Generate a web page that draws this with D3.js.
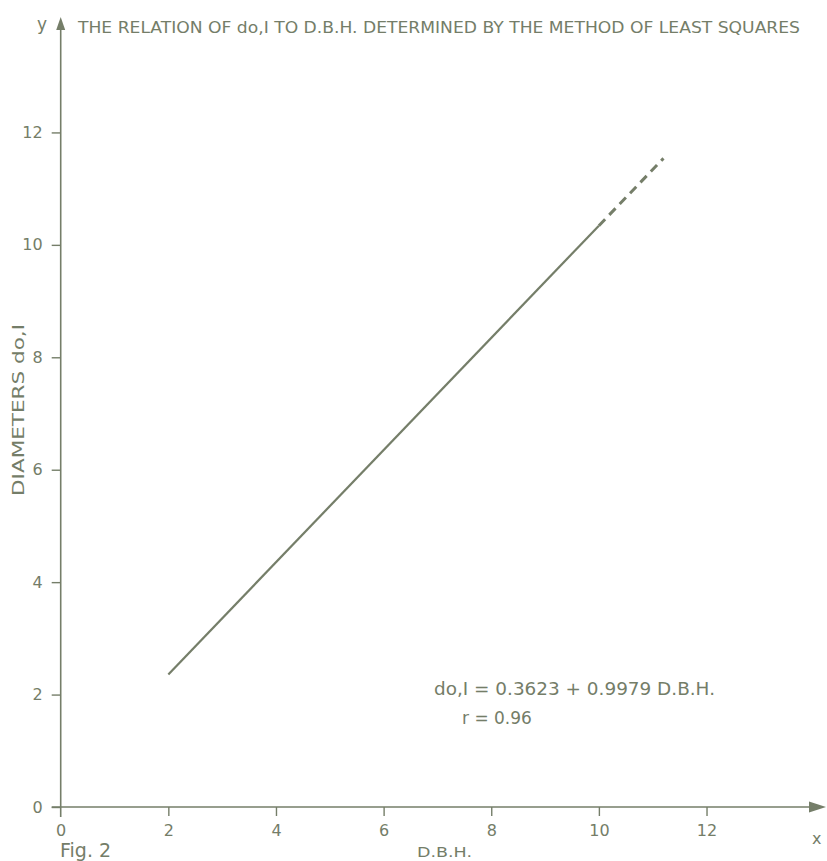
<!DOCTYPE html>
<html>
<head>
<meta charset="utf-8">
<script src="https://cdn.jsdelivr.net/npm/d3@7"></script>
<style>
  html, body { margin: 0; padding: 0; background: #ffffff; }
  svg { display: block; }
</style>
</head>
<body>
<svg id="chart" width="827" height="861"></svg>
<script>
// Data
const xTicks = [0, 2, 4, 6, 8, 10, 12];
const yTicks = [0, 2, 4, 6, 8, 10, 12];
const intercept = 0.3623;
const slope = 0.9979;
const solidX = [2, 10];       // fitted range (solid)
const dashedX = [10, 11.2];   // extrapolated (dashed)
const titleText = "THE RELATION OF do,I TO D.B.H. DETERMINED BY THE METHOD OF LEAST SQUARES";
const equationText = "do,I = 0.3623 + 0.9979  D.B.H.";
const rText = "r = 0.96";
const xLabel = "D.B.H.";
const yLabel = "DIAMETERS  do,I";
const figLabel = "Fig. 2";

const color = "#757e69";
const textColor = "#747d68";
const font = "'DejaVu Sans', 'Liberation Sans', sans-serif";
const svg = d3.select("#chart");

const x = d3.scaleLinear().domain([0, 14.22]).range([60.7, 826]);
const y = d3.scaleLinear().domain([0, 14]).range([807, 20]);

function txt(sel, size) {
  return sel.attr("font-size", size).attr("font-family", font).attr("fill", textColor)
    .attr("font-weight", 400)
    .style("font-size", size + "px").style("font-family", font);
}

// X axis
const xAxis = d3.axisBottom(x).tickValues(xTicks).tickSize(9).tickPadding(9).tickFormat(d3.format("d"));
const gx = svg.append("g").attr("transform", `translate(0,${y(0)})`).call(xAxis)
  .attr("font-size", 16).attr("font-family", font);
gx.select(".domain").attr("d", `M${x(0) - 9},0H${x(14.22) - 12}`).attr("stroke", color).attr("stroke-width", 1.6);
gx.selectAll(".tick line").attr("stroke", color).attr("stroke-width", 1.4);
txt(gx.selectAll(".tick text"), 16);
gx.selectAll(".tick").filter(d => d === 0).select("line").remove();

// Y axis
const yAxis = d3.axisLeft(y).tickValues(yTicks).tickSize(9).tickPadding(9).tickFormat(d3.format("d"));
const gy = svg.append("g").attr("transform", `translate(${x(0)},0)`).call(yAxis)
  .attr("font-size", 16).attr("font-family", font);
gy.select(".domain").attr("d", `M0,${y(0) + 10}V${y(14) + 8}`).attr("stroke", color).attr("stroke-width", 1.6);
gy.selectAll(".tick line").attr("stroke", color).attr("stroke-width", 1.4);
txt(gy.selectAll(".tick text"), 16);

// Arrowheads
svg.append("path")
  .attr("d", `M${x(14.22)},${y(0)} L${x(14.22) - 17},${y(0) - 5.5} L${x(14.22) - 17},${y(0) + 5.5} Z`)
  .attr("fill", color);
svg.append("path")
  .attr("d", `M${x(0)},${y(14) - 3} L${x(0) - 4.5},${y(14) + 10} L${x(0) + 4.5},${y(14) + 10} Z`)
  .attr("fill", color);

// Regression line
const f = v => intercept + slope * v;
const line = d3.line().x(d => x(d)).y(d => y(f(d)));
svg.append("path").datum(solidX).attr("d", line)
  .attr("fill", "none").attr("stroke", color).attr("stroke-width", 2.2);
svg.append("path").datum(dashedX).attr("d", line)
  .attr("fill", "none").attr("stroke", color).attr("stroke-width", 3)
  .attr("stroke-dasharray", "9,6");

// Texts
txt(svg.append("text").attr("x", 37).attr("y", 30), 17).text("y");
txt(svg.append("text").attr("x", 78).attr("y", 33), 16)
  .attr("textLength", 722).attr("lengthAdjust", "spacingAndGlyphs").text(titleText);
txt(svg.append("text").attr("x", 812).attr("y", 844), 16).text("x");
txt(svg.append("text").attr("x", 417).attr("y", 857), 14)
  .attr("textLength", 55).attr("lengthAdjust", "spacingAndGlyphs").text(xLabel);
txt(svg.append("text").attr("x", 60).attr("y", 857), 19).text(figLabel);
txt(svg.append("text").attr("transform", "translate(24,410) rotate(-90)"), 16)
  .attr("text-anchor", "middle")
  .attr("textLength", 172).attr("lengthAdjust", "spacingAndGlyphs").text(yLabel);
txt(svg.append("text").attr("x", 434).attr("y", 695), 17)
  .attr("textLength", 281).attr("lengthAdjust", "spacingAndGlyphs").text(equationText);
txt(svg.append("text").attr("x", 462).attr("y", 724), 17).text(rText);
</script>
</body>
</html>
